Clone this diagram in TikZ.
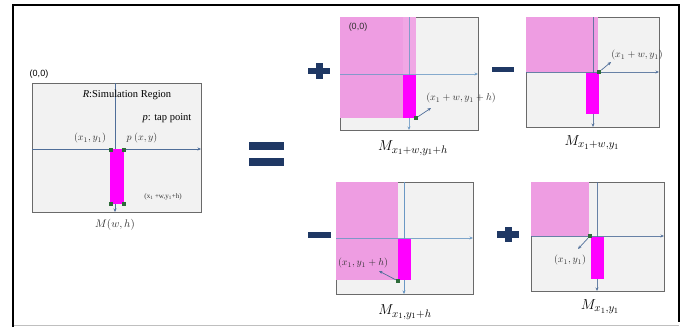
\documentclass[tikz,border=0pt]{standalone}
\usepackage{fontspec}
\setmainfont{Liberation Serif}
\newfontfamily\sansf{Liberation Sans}
\usetikzlibrary{arrows.meta}
\definecolor{navy}{HTML}{1F3864}
\definecolor{regfill}{HTML}{F2F2F2}
\definecolor{regdraw}{HTML}{6A6A6A}
\definecolor{pinkf}{HTML}{EE9DE2}
\definecolor{magf}{HTML}{FF00FF}
\definecolor{axisc}{HTML}{4F6E99}
\definecolor{axisl}{HTML}{6A98C4}
\definecolor{tapc}{HTML}{2E6B3A}
\definecolor{txtc}{HTML}{303030}
\tikzset{
  region/.style={fill=regfill,draw=regdraw,line width=1pt},
  pinkr/.style={fill=pinkf},
  magr/.style={fill=magf},
  axis/.style={draw=axisc,line width=0.6pt,-{Stealth[length=3.5pt,width=3pt]}},
  axislight/.style={draw=axisl,line width=0.7pt,-{Stealth[length=3.5pt,width=3pt]}},
  tap/.style={fill=tapc,minimum size=4pt,inner sep=0pt,draw=none},
  pointer/.style={draw=axisc,line width=0.7pt,-{Stealth[length=3.5pt,width=3pt]}},
  lbl/.style={text=txtc,inner sep=1pt,font=\fontsize{10}{11}\selectfont},
  mlbl/.style={text=black,inner sep=1pt,font=\fontsize{15.5}{17}\selectfont},
  opbar/.style={fill=navy,draw=none},
}
\begin{document}
\begin{tikzpicture}[x=1pt,y=-1pt]
\useasboundingbox (0,0) rectangle (693,327);
% outer frame
\draw[black!25,line width=1pt] (13,325.5) -- (679,325.5);
\draw[black,line width=2pt] (13,327) -- (13,5) -- (679,5) -- (679,322);

% ---------- left: M(w,h)
\node[font=\sansf\fontsize{9}{10}\selectfont,anchor=center] (o0) at (39,74) {(0,0)};
\draw[region] (32,83) rectangle (201,212);
\coordinate (lvt) at (115,83);
\coordinate (lvb) at (115,212);
\coordinate (lhl) at (32,149);
\coordinate (lhr) at (201,149);
\draw[axis] (lvt) -- (lvb);
\draw[axis] (lhl) -- (lhr);
\fill[magr] (110,149) rectangle (124,204);
\node[tap] (l1) at (110.5,149.5) {};
\node[tap] (l2) at (123.5,149.5) {};
\node[tap] (l3) at (110.5,204) {};
\node[tap] (l4) at (123.5,204) {};
\node[font=\fontsize{10.5}{12}\selectfont,inner sep=0pt] (rtxt) at (127,95) {\textit{R}:Simulation Region};
\node[font=\fontsize{10.5}{12}\selectfont,inner sep=0pt] (ptxt) at (167,118) {\textit{p}: tap point};
\node[lbl] (x1y1) at (90,138) {$(x_1,y_1)$};
\node[lbl] (pxy) at (142,138) {$p\ (x,y)$};
\node[text=txtc,inner sep=0pt,font=\fontsize{7}{8}\selectfont] (corn) at (163,197) {(x\textsubscript{1} +w,y\textsubscript{1}+h)};
\node[font=\fontsize{10.5}{12}\selectfont,inner sep=0pt,text=txtc] (mwh) at (115,225) {$M(w,h)$};

% equals
\fill[opbar] (249,142) rectangle (284,150);
\fill[opbar] (249,158) rectangle (284,166);

% ---------- top middle: + M_{x1+w,y1+h}
\fill[opbar] (308,67.5) rectangle (330,74);
\fill[opbar] (316,62.5) rectangle (323,79);
\draw[region] (340,17) rectangle (478,130);
\fill[pinkr] (340,17) rectangle (403,118);
\fill[pinkf!90!white] (403,17) rectangle (416,74);
\coordinate (avt) at (409,17);
\coordinate (avb) at (409,130);
\coordinate (ahl) at (340,74);
\coordinate (ahr) at (478,74);
\draw[axislight,draw opacity=0.8] (avt) -- (avb);
\draw[axislight,draw opacity=0.8] (ahl) -- (ahr);
\fill[magr] (403,74.5) rectangle (416,118);
\node[tap] (ta) at (416,118) {};
\node[font=\sansf\fontsize{9}{10}\selectfont,text=txtc] (o1) at (358,27) {(0,0)};
\node[lbl] (la) at (461,98) {$(x_1+w,y_1+h)$};
\coordinate (pa) at (431,108);
\draw[pointer] (ta) -- (pa);
\node[mlbl] (ma) at (413,148) {$M_{x_1+w,y_1+h}$};

% ---------- top right: - M_{x1+w,y1}
\fill[opbar] (492,67) rectangle (514,72);
\draw[region] (526,17) rectangle (659,127);
\fill[pinkr] (526,17) rectangle (598,72);
\coordinate (bvt) at (593,17);
\coordinate (bvb) at (593,127);
\coordinate (bhl) at (526,72);
\coordinate (bhr) at (659,72);
\draw[axis,draw opacity=0.85] (bvt) -- (bvb);
\draw[axis,draw opacity=0.85] (bhl) -- (bhr);
\fill[magr] (586,72.5) rectangle (599,114);
\node[tap] (tb) at (599,72) {};
\node[lbl] (lb) at (637,55) {$(x_1+w,y_1)$};
\coordinate (pb) at (611,62);
\draw[pointer] (tb) -- (pb);
\node[mlbl] (mb) at (592,143) {$M_{x_1+w,y_1}$};

% ---------- bottom middle: - M_{x1,y1+h}
\fill[opbar] (308,232) rectangle (331,238);
\draw[region] (336,182) rectangle (473,294);
\fill[pinkr] (336,182) rectangle (398,280);
\coordinate (cvt) at (404,182);
\coordinate (cvb) at (404,294);
\coordinate (chl) at (336,238);
\coordinate (chr) at (473,238);
\draw[axislight] (cvt) -- (cvb);
\draw[axislight,draw opacity=0.85] (chl) -- (chr);
\fill[magr] (398,238.5) rectangle (411,280);
\node[tap] (tc) at (398,281) {};
\node[lbl] (lc) at (363,263) {$(x_1,y_1+h)$};
\coordinate (pc) at (379,271);
\draw[pointer] (tc) -- (pc);
\node[mlbl] (mc) at (405,312) {$M_{x_1,y_1+h}$};

% ---------- bottom right: + M_{x1,y1}
\fill[opbar] (497,231) rectangle (519,237.5);
\fill[opbar] (505,227) rectangle (512,242);
\draw[region] (531,182) rectangle (664,291);
\fill[pinkr] (531,182) rectangle (589,236);
\coordinate (dvt) at (597,182);
\coordinate (dvb) at (597,291);
\coordinate (dhl) at (531,236);
\coordinate (dhr) at (664,236);
\draw[axis,draw opacity=0.85] (dvt) -- (dvb);
\draw[axis,draw opacity=0.85] (dhl) -- (dhr);
\fill[magr] (591,236.5) rectangle (604,279);
\node[tap] (td) at (590,236) {};
\node[lbl] (ld) at (570,260) {$(x_1,y_1)$};
\coordinate (pd) at (578,249);
\draw[pointer] (td) -- (pd);
\node[mlbl] (md) at (600,307) {$M_{x_1,y_1}$};
\end{tikzpicture}
\end{document}
